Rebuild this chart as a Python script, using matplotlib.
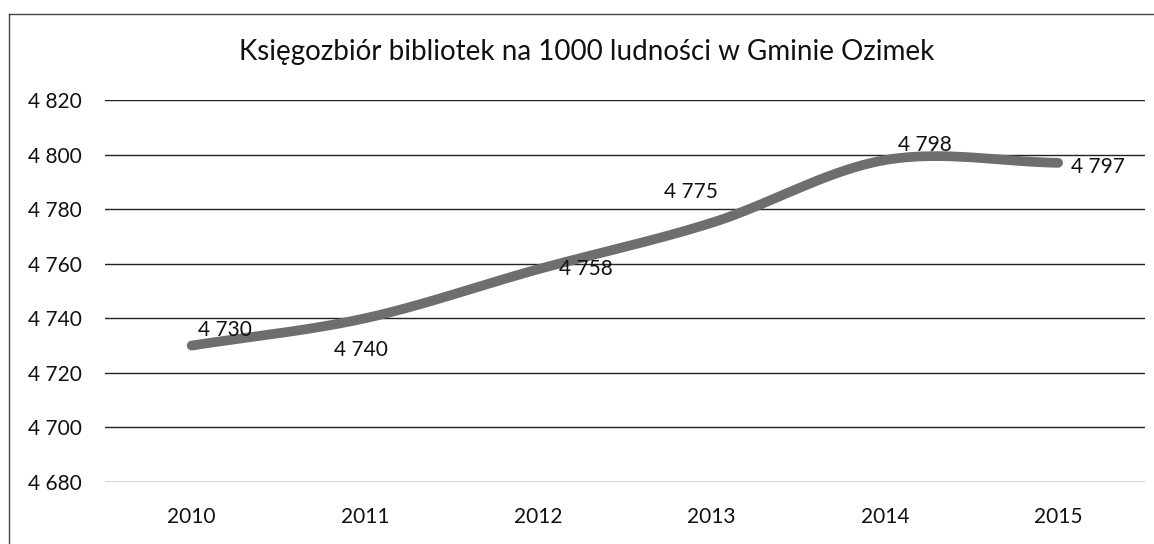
"""Księgozbiór bibliotek na 1000 ludności — smoothed line chart."""
import matplotlib
matplotlib.use("Agg")
import matplotlib.pyplot as plt
import numpy as np
from matplotlib.lines import Line2D
from matplotlib.ticker import FuncFormatter

YEARS = ["2010", "2011", "2012", "2013", "2014", "2015"]
VALUES = [4730, 4740, 4758, 4775, 4798, 4797]
Y_TICKS = [4680, 4700, 4720, 4740, 4760, 4780, 4800, 4820]
TITLE = "Księgozbiór bibliotek na 1000 ludności w Gminie Ozimek"

# data-label offsets in points (dx, dy)
LABEL_OFFSETS = [(24, 11), (-3, -23), (34, 0), (-15, 22), (29, 11), (29, -3)]

plt.rcParams["font.family"] = ["Lato", "DejaVu Sans"]


def smooth(xs, ys, n=40):
    """Catmull-Rom curve through the points, like Excel's smoothed line."""
    p = np.column_stack([xs, ys]).astype(float)
    p = np.vstack([2 * p[0] - p[1], p, 2 * p[-1] - p[-2]])
    out = []
    for i in range(1, len(p) - 2):
        p0, p1, p2, p3 = p[i - 1], p[i], p[i + 1], p[i + 2]
        t = np.linspace(0, 1, n)[:, None]
        seg = 0.5 * ((2 * p1) + (-p0 + p2) * t
                     + (2 * p0 - 5 * p1 + 4 * p2 - p3) * t ** 2
                     + (-p0 + 3 * p1 - 3 * p2 + p3) * t ** 3)
        out.append(seg)
    c = np.vstack(out)
    return c[:, 0], c[:, 1]


fig = plt.figure(figsize=(11.54, 5.44), dpi=100)
ax = fig.add_axes([0.091, 0.114, 0.901, 0.702])

x = np.arange(len(YEARS))
sx, sy = smooth(x, VALUES)
ax.plot(sx, sy, color="#6e6e6e", lw=7, solid_capstyle="round", zorder=3)

for xi, v, (dx, dy) in zip(x, VALUES, LABEL_OFFSETS):
    ax.annotate(f"{v:,}".replace(",", " "), (xi, v), xytext=(dx, dy),
                textcoords="offset points", ha="center", va="center",
                fontsize=15, color="#111111", zorder=4)

ax.set_xlim(-0.5, len(YEARS) - 0.5)
ax.set_ylim(Y_TICKS[0], Y_TICKS[-1])
ax.set_yticks(Y_TICKS)
ax.yaxis.set_major_formatter(FuncFormatter(lambda v, _: f"{v:,.0f}".replace(",", " ")))
ax.set_xticks(x)
ax.set_xticklabels(YEARS)
ax.tick_params(axis="both", length=0, labelsize=15, colors="#111111")
ax.tick_params(axis="y", pad=17)
ax.tick_params(axis="x", pad=18)
ax.grid(axis="y", color="#222222", lw=1.0)
ax.set_axisbelow(True)
for s in ax.spines.values():
    s.set_visible(False)

fig.text(0.508, 0.905, TITLE, ha="center", va="center", fontsize=20, color="#111111")

# scanned chart frame (left and top edges only)
fig.add_artist(Line2D([0.008, 0.008], [0.0, 0.975], color="#444444", lw=1.0))
fig.add_artist(Line2D([0.008, 1.0], [0.975, 0.975], color="#444444", lw=1.0))

fig.savefig("out.png", dpi=100)
